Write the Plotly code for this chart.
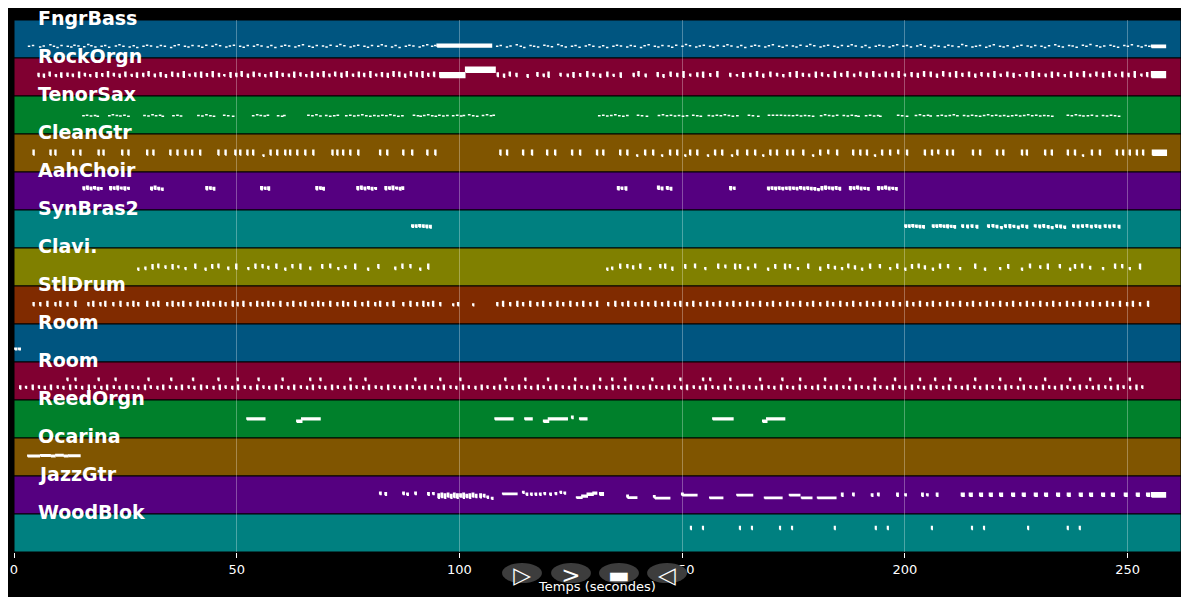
import plotly.graph_objects as go

TRACKS = ["FngrBass", "RockOrgn", "TenorSax", "CleanGtr", "AahChoir", "SynBras2", "Clavi.",
          "StlDrum", "Room", "Room", "ReedOrgn", "Ocarina", "JazzGtr", "WoodBlok"]
X_TICKS = [0, 50, 100, 150, 200, 250]
X_MAX = 262
X_TITLE = "Temps (secondes)"
BUTTON_LABELS = ["▷", ">", "▬", "◁"]

# note length (s) of the short notes of each track
NOTE_LEN = [0.55, 0.22, 0.6, 0.2, 0.35, 0.35, 0.2, 0.2, 0.4, 0.2, 0.3, 0.3, 0.3, 0.15]

# short notes: (onset s, low pitch[, high pitch])
FNGRBASS = [(3.1,40),(4.0,43),(5.6,38),(6.4,41),(7.9,45),(8.7,40),(9.5,36),(10.4,43),(11.8,40),(12.6,38),(13.3,44),(14.2,41),(15.5,39),(16.4,46),(17.1,42),(18.0,38),(19.4,40),(20.2,43),(21.1,37),(22.6,41),(23.4,45),(24.3,40),(25.7,38),(26.6,42),(27.4,36),(28.8,40),(29.6,44),(30.5,41),(31.9,38),(32.7,43),(33.6,40),(35.0,36),(35.8,42),(36.7,45),(38.1,40),(38.9,38),(39.8,43),(41.2,41),(42.0,37),(42.9,44),(44.3,40),(45.1,46),(46.0,42),(47.4,38),(48.2,41),(49.1,44),(50.5,40),(51.3,37),(52.2,43),(53.6,40),(54.4,45),(55.3,41),(56.7,38),(57.5,43),(58.4,36),(59.8,40),(60.6,44),(61.5,41),(62.9,38),(63.7,42),(64.6,45),(66.0,40),(66.8,37),(67.7,43),(69.1,41),(69.9,38),(70.8,44),(72.2,40),(73.0,46),(73.9,42),(75.3,38),(76.1,41),(77.0,44),(78.4,40),(79.2,37),(80.1,43),(81.5,40),(82.3,45),(83.2,41),(84.6,38),(85.4,43),(86.3,36),(87.7,40),(88.5,44),(89.4,41),(90.8,38),(91.6,42),(92.5,45),(93.6,40),(94.3,43),
            (108.2,40),(109.0,43),(110.4,38),(111.2,41),(112.6,45),(113.5,40),(114.3,36),(115.7,43),(116.5,40),(117.4,38),(118.8,44),(119.6,41),(120.5,39),(121.9,46),(122.7,42),(123.6,38),(125.0,40),(125.8,43),(126.7,37),(128.1,41),(128.9,45),(129.8,40),(131.2,38),(132.0,42),(132.9,36),(134.3,40),(135.1,44),(136.0,41),(137.4,38),(138.2,43),(139.1,40),(140.5,36),(141.3,42),(142.2,45),(143.6,40),(144.4,38),(145.3,43),(146.7,41),(147.5,37),(148.4,44),(149.8,40),(150.6,46),(151.5,42),(152.9,38),(153.7,41),(154.6,44),(156.0,40),(156.8,37),(157.7,43),(159.1,40),(159.9,45),(160.8,41),(162.2,38),(163.0,43),(163.9,36),(165.3,40),(166.1,44),(167.0,41),(168.4,38),(169.2,42),(170.1,45),(171.5,40),(172.3,37),(173.2,43),(174.6,41),(175.4,38),(176.3,44),(177.7,40),(178.5,46),(179.4,42),(180.8,38),(181.6,41),(182.5,44),(183.9,40),(184.7,37),(185.6,43),(187.0,40),(187.8,45),(188.7,41),(190.1,38),(190.9,43),(191.8,36),(193.2,40),(194.0,44),(194.9,41),(196.3,38),(197.1,42),(198.0,45),(199.4,40),(200.2,43),(201.1,38),(202.5,41),(203.3,45),(204.2,40),(205.6,36),(206.4,43),(207.3,40),(208.7,38),(209.5,44),(210.4,41),(211.8,39),(212.6,46),(213.5,42),(214.9,38),(215.7,40),(216.6,43),(218.0,37),(218.8,41),(219.7,45),(221.1,40),(221.9,38),(222.8,42),(224.2,36),(225.0,40),(225.9,44),(227.3,41),(228.1,38),(229.0,43),(230.4,40),(231.2,36),(232.1,42),(233.5,45),(234.3,40),(235.2,38),(236.6,43),(237.4,41),(238.3,37),(239.7,44),(240.5,40),(241.4,46),(242.8,42),(243.6,38),(244.5,41),(245.9,44),(246.7,40),(247.6,37),(249.0,43),(249.8,40),(250.7,45),(252.1,41),(252.9,38),(253.8,43),(254.6,40)]
FNGRBASS_HELD = [(95.0,107.2,38,45),(255.4,258.5,36,42)]

ROCKORGN = [(5.4,66,74),(6.6,64,72),(7.9,68,78),(9.3,66,70),(10.5,64,76),(11.9,67,75),(13.1,66,72),(14.5,63,78),(15.8,68,74),(17.0,66,70),(18.4,64,77),(19.7,67,73),(21.0,65,80),(22.3,68,74),(23.6,64,72),(24.9,66,78),(26.3,67,71),(27.5,64,76),(28.9,66,74),(30.1,68,80),(31.5,65,72),(32.8,66,77),(34.0,64,70),(35.4,67,78),(36.7,66,74),(38.0,64,80),(39.3,68,72),(40.6,66,76),(41.9,64,78),(43.2,67,73),(44.5,65,80),(45.9,66,74),(47.1,68,70),(48.5,64,77),(49.8,66,74),(51.0,67,80),(52.4,64,72),(53.7,66,78),(55.0,68,74),(56.3,65,70),(57.6,66,77),(58.9,64,80),(60.2,67,74),(61.6,66,72),(62.8,64,78),(64.2,68,76),(65.5,66,70),(66.8,64,79),(68.1,67,74),(69.4,65,80),(70.7,66,72),(72.0,68,78),(73.4,64,75),(74.6,66,80),(76.0,67,72),(77.3,65,78),(78.5,66,74),(79.9,64,80),(81.2,68,72),(82.5,66,77),(83.8,64,74),(85.1,67,80),(86.4,66,78),(87.7,64,72),(89.0,68,80),(90.3,66,76),(91.6,64,80),(92.9,67,74),(94.2,66,78),
            (108.5,66,76),(109.9,64,72),(111.2,68,78),(112.7,66,74),(115.2,64,70),(117.4,67,77),(118.8,66,72),(119.9,64,78),(122.6,68,74),(124.2,66,72),(125.5,64,77),(127.0,67,73),(128.6,65,80),(130.0,68,74),(131.5,64,72),(133.1,66,78),(134.5,67,71),(136.1,64,76),(139.0,66,74),(140.1,68,80),(141.7,65,72),(144.4,66,77),(145.7,64,70),(147.3,67,78),(148.8,66,74),(150.2,64,80),(151.7,68,72),(153.3,66,76),(154.6,64,78),(156.2,67,73),(157.8,65,80),(160.7,66,74),(162.2,68,70),(163.6,64,77),(165.2,66,74),(166.7,67,80),(168.1,64,72),(169.7,66,78),(171.2,68,74),(172.6,65,70),(174.1,66,77),(175.6,64,80),(177.0,67,74),(178.4,66,72),(179.9,64,78),(181.3,68,76),(182.7,66,70),(184.2,64,79),(185.6,67,74),(187.0,65,80),(188.5,66,72),(189.9,68,78),(191.3,64,75),(192.8,66,80),(194.2,67,72),(195.6,65,78),(197.1,66,74),(198.5,64,80),(199.9,68,72),(201.4,66,77),(202.8,64,74),(204.2,67,80),(205.7,66,78),(207.1,64,72),(208.5,68,80),(210.0,66,76),(211.4,64,80),(212.8,67,74),(214.3,66,78),(215.7,64,72),(217.1,68,77),(218.6,66,74),(220.0,64,80),(221.4,67,72),(222.9,66,78),(224.3,64,74),(225.7,68,70),(227.2,66,77),(228.6,64,80),(230.0,67,74),(231.5,66,72),(232.9,64,78),(234.3,68,76),(235.8,66,70),(237.2,64,79),(238.6,67,74),(240.1,65,80),(241.5,66,72),(242.9,68,78),(244.4,64,75),(245.8,66,80),(247.2,67,72),(248.7,65,78),(250.1,66,74),(251.5,64,80),(253.0,68,72),(254.3,66,77)]
ROCKORGN_HELD = [(95.6,101.2,63,77),(101.4,108.0,80,95),(255.4,258.5,63,80)]

TENORSAX = [(15.3,62),(16.1,64),(17.0,61),(17.9,63),(18.5,60),(21.1,62),(21.9,65),(22.8,63),(23.6,61),(24.5,64),(25.4,60),(29.0,63),(29.9,61),(30.8,65),(31.6,62),(32.5,64),(33.1,60),(35.5,62),(36.4,64),(37.2,61),(41.1,63),(42.0,61),(42.9,65),(43.8,62),(44.6,60),(46.9,64),(47.8,62),(48.9,60),(53.4,62),(54.3,65),(55.1,63),(56.0,61),(56.7,64),(59.0,62),(59.9,60),(60.4,63),(65.8,64),(66.7,62),(67.6,65),(68.5,61),(69.8,63),(70.7,60),(71.6,62),(72.4,64),(74.3,62),(75.2,64),(76.1,61),(77.0,63),(77.9,65),(78.8,62),(79.7,60),(80.6,63),(81.5,61),(82.4,64),(83.3,62),(84.2,65),(85.1,63),(86.0,60),(86.9,62),(89.5,64),(90.4,62),(91.0,60),(91.8,63),(92.7,65),(93.6,62),(94.4,60),(95.2,64),(96.1,61),(97.0,63),(98.3,62),(99.2,64),(100.1,61),(100.7,63),(101.9,65),(102.8,62),(103.7,60),(105.0,63),(105.9,65),(106.8,62),(107.4,64),
            (131.1,62),(132.0,64),(132.9,61),(133.8,63),(134.7,65),(135.6,62),(136.5,60),(137.4,63),(139.8,64),(140.7,62),(141.8,60),(144.5,63),(145.4,65),(146.3,62),(147.2,64),(148.1,61),(149.0,63),(149.9,60),(150.8,62),(152.2,64),(153.1,62),(153.9,60),(155.7,63),(156.6,61),(157.5,64),(158.4,62),(159.3,65),(160.2,63),(161.1,60),(162.1,62),(164.7,64),(165.6,62),(166.8,60),(169.2,64),(170.1,64),(171.0,64),(171.9,64),(172.8,63),(173.7,63),(174.6,62),(175.5,64),(176.4,61),(177.3,63),(178.2,62),(179.1,60),(180.9,62),(181.8,65),(182.7,63),(183.6,61),(184.5,64),(186.0,63),(186.9,61),(187.8,64),(188.7,62),(189.3,60),(191.0,62),(191.9,64),(192.8,61),(193.7,63),(194.2,60),(198.2,64),(199.1,62),(200.2,60),(202.2,63),(203.1,65),(204.0,62),(204.9,64),(205.5,61),(207.1,62),(208.0,64),(208.9,61),(209.8,63),(210.7,65),(211.5,62),(213.0,63),(213.9,61),(214.8,64),(215.7,62),(216.6,60),(217.5,63),(218.4,65),(219.3,62),(220.2,64),(221.1,61),(222.0,63),(222.9,60),(223.8,62),(224.7,64),(225.6,61),(226.5,63),(227.4,65),(228.3,62),(229.2,64),(230.1,61),(231.0,63),(231.9,62),(232.8,60),(236.3,64),(237.2,62),(238.1,65),(239.0,63),(239.8,61),(240.8,62),(241.7,64),(242.8,61),(244.2,63),(245.1,61),(246.0,64),(246.9,62),(247.8,60)]

CLEANGTR = [(4.3,58,72),(8.1,58,72),(9.2,58,72),(13.2,58,72),(14.8,58,72),(18.9,58,72),(20.0,58,72),(24.2,58,72),(25.6,58,72),(29.8,58,72),(31.2,58,72),(35.0,58,72),(36.6,58,72),(38.4,58,72),(39.9,58,72),(41.7,58,72),(45.8,58,72),(47.4,58,72),(49.6,58,72),(50.7,58,72),(52.3,58,72),(53.6,58,72),(55.9,54,56),(57.5,58,72),(59.0,58,72),(60.8,58,72),(61.9,58,72),(63.5,58,72),(65.3,58,72),(67.1,58,72),(71.4,58,72),(72.5,58,72),(73.8,58,72),(75.4,58,72),(77.2,58,72),(82.1,58,72),(83.7,58,72),(87.3,58,72),(89.3,58,72),(92.7,58,72),(94.5,58,72),
            (109.1,58,72),(110.6,58,72),(114.2,58,72),(116.2,58,72),(119.6,58,72),(121.4,58,72),(125.2,58,72),(127.0,58,72),(130.8,58,72),(132.2,58,72),(136.0,58,72),(137.6,58,72),(139.8,54,56),(141.6,58,72),(143.4,58,72),(145.4,54,56),(147.2,58,72),(148.8,58,72),(150.6,54,56),(151.7,58,72),(153.3,58,72),(155.7,54,56),(157.3,58,72),(158.9,58,72),(161.1,54,56),(162.3,58,72),(164.5,58,72),(166.3,58,72),(168.1,54,56),(169.7,58,72),(171.2,58,72),(173.5,58,72),(174.8,58,72),(177.1,58,72),(179.3,54,56),(180.9,58,72),(182.7,62,72),(184.7,58,72),(188.3,58,72),(189.9,58,72),(191.4,58,72),(193.2,54,56),(194.8,58,72),(196.6,58,72),(198.4,62,72),(200.4,58,72),(204.4,58,72),(206.0,58,72),(207.4,62,72),(209.4,58,72),(210.7,58,72),(215.2,58,72),(216.8,58,72),(220.6,58,72),(222.0,58,72),(226.2,58,72),(227.3,58,72),(231.4,58,72),(232.9,58,72),(236.5,58,72),(238.1,58,72),(239.9,54,56),(241.9,58,72),(243.7,58,72),(247.5,58,72),(248.9,58,72),(250.4,58,72),(252.0,58,72),(253.4,58,72)]
CLEANGTR_HELD = [(255.6,258.7,57,72)]

AAHCHOIR = [(15.5,69,76),(16.3,70,78),(17.1,69,75),(17.9,71,77),(18.7,68,74),(19.4,70,73),(21.5,69,77),(22.3,70,76),(23.1,69,78),(23.9,71,75),(24.7,68,76),(25.5,70,74),(30.7,68,75),(31.5,70,78),(32.3,69,74),(33.1,67,72),(43.1,69,77),(43.9,70,76),(44.7,68,74),(55.4,69,77),(56.2,70,75),(57.0,68,76),(67.8,69,77),(68.6,70,76),(69.3,68,74),(77.0,69,77),(77.8,70,78),(78.6,69,75),(79.4,71,77),(80.2,68,74),(81.0,70,73),(83.3,69,77),(84.1,70,76),(84.9,69,78),(85.7,71,75),(86.5,68,74),(87.1,70,76),
            (135.5,69,77),(136.3,70,75),(137.2,68,76),(144.5,70,78),(145.3,69,75),(146.5,70,77),(147.3,68,74),(160.7,69,77),(161.5,70,75),(169.2,69,75),(170.0,70,76),(170.8,69,75),(171.6,70,76),(172.4,69,74),(173.2,70,75),(174.0,69,76),(174.8,70,75),(175.6,69,74),(176.4,71,77),(177.2,69,75),(178.0,70,76),(178.8,69,74),(179.6,68,73),(180.4,66,70),(181.2,69,77),(182.0,70,78),(182.8,71,76),(183.6,69,75),(184.4,70,77),(185.2,68,74),(187.6,69,77),(188.4,70,76),(189.2,71,78),(190.0,69,75),(190.8,70,74),(191.6,68,73),(193.9,69,77),(194.7,70,76),(195.5,71,78),(196.3,69,75),(197.1,70,74),(197.9,68,73)]

SYNBRAS2 = [(89.3,70,76),(90.1,70,76),(90.9,71,77),(91.7,70,76),(92.5,69,75),(93.3,68,74),(200.0,70,76),(200.8,70,76),(201.6,71,77),(202.4,70,75),(203.2,69,74),(204.0,68,73),(206.2,70,76),(207.0,70,76),(207.8,71,77),(208.6,70,75),(209.4,69,76),(210.2,70,74),(211.0,68,73),(212.8,70,76),(213.9,69,75),(214.9,70,76),(216.0,68,74),(218.6,70,76),(219.6,71,77),(220.5,69,74),(221.5,66,70),(222.4,70,76),(223.4,69,77),(224.3,70,74),(225.3,66,72),(226.2,70,76),(227.2,68,74),(229.1,71,76),(230.1,69,75),(231.0,70,77),(232.0,68,73),(232.9,66,70),(233.9,70,76),(234.8,69,75),(235.7,67,72),(237.7,70,76),(238.7,69,75),(239.7,70,76),(240.7,71,77),(241.7,69,74),(242.7,70,76),(243.6,68,74),(244.8,70,76),(245.8,69,75),(246.8,70,76),(247.9,68,74)]

CLAVI = [(27.8,54,58),(29.4,56,62),(31.0,58,70),(32.3,62,72),(33.9,60,66),(35.5,58,70),(36.8,62,66),(38.4,56,60),(40.6,60,72),(42.9,54,58),(44.4,60,70),(45.8,62,72),(48.0,56,62),(49.8,58,72),(52.5,56,60),(54.1,60,72),(55.7,62,70),(57.0,58,64),(58.8,60,72),(60.8,54,58),(62.4,62,70),(64.2,58,72),(66.4,56,62),(69.1,60,70),(70.9,62,72),(72.7,56,60),(74.3,60,66),(76.5,58,72),(79.4,54,58),(81.7,60,70),(85.5,56,62),(87.1,60,72),(88.9,62,70),(91.1,54,58),(92.9,58,72),
         (133.1,54,58),(134.2,56,62),(136.0,60,72),(137.6,62,70),(138.9,58,66),(140.5,60,72),(142.7,56,60),(145.0,62,70),(146.1,60,72),(147.7,54,62),(150.6,60,70),(152.8,62,72),(155.1,56,60),(158.0,60,72),(159.6,62,68),(161.8,58,72),(162.9,60,70),(164.7,56,62),(166.3,62,72),(169.2,54,58),(170.8,60,70),(173.0,58,72),(174.1,62,70),(175.9,56,60),(178.2,60,72),(180.9,54,62),(182.7,60,70),(184.2,58,64),(185.8,56,60),(187.2,62,72),(188.7,58,66),(190.3,54,58),(192.1,60,72),(194.3,62,70),(196.6,56,60),(198.2,60,72),(200.0,54,58),(201.5,60,70),(203.0,62,72),(204.4,58,66),(206.2,54,58),(207.8,60,72),(209.6,62,70),(212.3,56,60),(215.7,60,72),(217.9,54,58),(221.3,56,60),(223.1,60,70),(226.2,54,58),(228.0,62,72),(230.3,60,66),(232.0,58,72),(234.7,62,70),(237.0,54,58),(238.1,60,70),(239.7,62,72),(241.5,58,64),(244.4,56,60),(247.1,60,72),(248.7,62,70),(250.4,56,60),(252.7,58,72)]

STLDRUM = [(4.3,62,70),(5.8,62,70),(7.4,60,74),(9.2,62,70),(10.3,60,74),(11.9,62,70),(13.7,60,74),(16.6,62,70),(17.7,60,74),(19.3,62,70),(20.4,60,74),(22.2,62,70),(23.8,60,74),(25.4,62,70),(26.7,60,74),(27.8,62,70),(29.8,60,74),(31.2,62,70),(32.3,60,74),(34.3,62,70),(35.5,60,74),(36.8,62,70),(37.9,60,74),(39.5,62,70),(41.1,60,74),(42.4,62,70),(43.5,60,74),(44.7,62,70),(46.2,60,74),(47.4,62,70),(49.0,60,74),(50.1,62,70),(51.4,60,74),(53.0,62,70),(54.5,60,74),(55.7,62,70),(57.0,60,74),(58.1,62,70),(59.7,60,74),(61.3,62,70),(62.6,60,74),(64.2,62,70),(65.3,60,74),(66.9,62,70),(68.2,60,74),(69.3,62,70),(70.9,60,74),(72.5,62,70),(73.8,60,74),(74.9,62,70),(76.5,60,74),(78.1,62,70),(79.4,60,74),(81.0,62,70),(82.1,60,74),(83.7,62,70),(85.1,60,74),(87.3,62,70),(88.9,60,74),(90.4,62,70),(91.8,60,74),(92.9,62,70),(94.0,60,74),(95.6,62,70),(98.5,62,66),(99.6,62,70),(103.0,62,66),
           (108.4,62,70),(109.7,60,74),(111.3,62,70),(112.9,60,74),(114.2,62,70),(115.8,60,74),(117.4,62,70),(118.7,60,74),(120.3,62,70),(121.9,60,74),(123.2,62,70),(124.8,60,74),(126.3,62,70),(127.7,60,74),(129.3,62,70),(130.8,60,74),(133.3,62,70),(134.9,60,74),(136.5,62,70),(137.8,60,74),(139.4,62,70),(140.9,60,74),(142.3,62,70),(143.9,60,74),(145.4,62,70),(146.8,60,74),(148.3,62,70),(149.5,60,74),(151.0,62,70),(152.4,60,74),(154.0,62,70),(155.5,60,74),(156.9,62,70),(158.4,60,74),(160.0,62,70),(161.4,60,74),(162.9,62,70),(164.5,60,74),(165.8,62,70),(167.4,60,74),(169.0,62,70),(170.3,60,74),(171.9,62,70),(173.5,60,74),(174.8,62,70),(176.4,60,74),(178.0,62,70),(179.3,60,74),(180.9,62,70),(182.5,60,74),(183.8,62,70),(185.4,60,74),(186.9,62,70),(188.3,60,74),(189.9,62,70),(191.4,60,74),(192.8,62,70),(194.3,60,74),(195.9,62,70),(197.3,60,74),(198.8,62,70),(200.4,60,74),(201.8,62,70),(203.3,60,74),(204.9,62,70),(206.2,60,74),(207.8,62,70),(209.4,60,74),(210.7,62,70),(212.3,60,74),(213.9,62,70),(215.2,60,74),(216.8,62,70),(218.3,60,74),(219.7,62,70),(221.3,60,74),(222.8,62,70),(224.2,60,74),(225.8,62,70),(227.3,60,74),(228.7,62,70),(230.3,60,74),(231.8,62,70),(233.2,60,74),(234.7,62,70),(236.3,60,74),(237.7,62,70),(239.2,60,74),(240.8,62,70),(242.1,60,74),(243.7,62,70),(245.3,60,74),(246.6,62,70),(248.2,60,74),(249.8,62,70),(251.1,60,74),(252.7,62,70),(254.5,60,74)]

ROOM_A = [(0.2,42,45),(1.0,42,45)]

ROOM_B = [(1.3,38,46),(2.6,40,44),(4.1,36,48),(5.5,40,46),(6.8,38,44),(8.2,36,48),(9.7,40,46),(11.0,38,44),(12.5,36,48),(13.8,40,46),(15.2,38,44),(16.7,36,48),(18.0,40,46),(19.5,38,44),(20.8,36,48),(22.3,40,46),(23.6,38,44),(25.1,36,48),(26.5,40,46),(27.8,38,44),(29.3,36,48),(30.6,40,46),(32.1,38,44),(33.4,36,48),(34.9,40,46),(36.3,38,44),(37.6,36,48),(39.1,40,46),(40.4,38,44),(41.9,36,48),(43.2,40,46),(44.7,38,44),(46.1,36,48),(47.4,40,46),(48.9,38,44),(50.2,36,48),(51.7,40,46),(53.0,38,44),(54.5,36,48),(55.9,40,46),(57.2,38,44),(58.7,36,48),(60.0,40,46),(61.5,38,44),(62.8,36,48),(64.3,40,46),(65.7,38,44),(67.0,36,48),(68.5,40,46),(69.8,38,44),(71.3,36,48),(72.6,40,46),(74.1,38,44),(75.5,36,48),(76.8,40,46),(78.3,38,44),(79.6,36,48),(81.1,40,46),(82.4,38,44),(83.9,36,48),(85.3,40,46),(86.6,38,44),(88.1,36,48),(89.4,40,46),(90.9,38,44),(92.2,36,48),(93.7,40,46),(95.1,38,44),(96.4,36,48),(97.9,40,46),(99.2,38,44),(100.7,36,48),(102.0,40,46),(103.5,38,44),(104.9,36,48),(106.2,40,46),(107.7,38,44),(109.0,36,48),(110.5,40,46),(111.8,38,44),(113.3,36,48),(114.7,40,46),(116.0,38,44),(117.5,36,48),(118.8,40,46),(120.3,38,44),(121.6,36,48),(123.1,40,46),(124.5,38,44),(125.8,36,48),(127.3,40,46),(128.6,38,44),(130.1,36,48),(131.4,40,46),(132.9,38,44),(134.3,36,48),(135.6,40,46),(137.1,38,44),(138.4,36,48),(139.9,40,46),(141.2,38,44),(142.7,36,48),(144.1,40,46),(145.4,38,44),(146.9,36,48),(148.2,40,46),(149.7,38,44),(151.0,36,48),(152.5,40,46),(153.9,38,44),(155.2,36,48),(156.7,40,46),(158.0,38,44),(159.5,36,48),(160.8,40,46),(162.3,38,44),(163.7,36,48),(165.0,40,46),(166.5,38,44),(167.8,36,48),(169.3,40,46),(170.6,38,44),(172.1,36,48),(173.5,40,46),(174.8,38,44),(176.3,36,48),(177.6,40,46),(179.1,38,44),(180.4,36,48),(181.9,40,46),(183.3,38,44),(184.6,36,48),(186.1,40,46),(187.4,38,44),(188.9,36,48),(190.2,40,46),(191.7,38,44),(193.1,36,48),(194.4,40,46),(195.9,38,44),(197.2,36,48),(198.7,40,46),(200.0,38,44),(201.5,36,48),(202.9,40,46),(204.2,38,44),(205.7,36,48),(207.0,40,46),(208.5,38,44),(209.8,36,48),(211.3,40,46),(212.7,38,44),(214.0,36,48),(215.5,40,46),(216.8,38,44),(218.3,36,48),(219.6,40,46),(221.1,38,44),(222.5,36,48),(223.8,40,46),(225.3,38,44),(226.6,36,48),(228.1,40,46),(229.4,38,44),(230.9,36,48),(232.3,40,46),(233.6,38,44),(235.1,36,48),(236.4,40,46),(237.9,38,44),(239.2,36,48),(240.7,40,46),(242.1,38,44),(243.4,36,48),(244.9,40,46),(246.2,38,44),(247.7,36,48),(249.0,40,46),(250.5,38,44),(251.9,36,48),(253.2,40,46),
          (11.9,66,72),(13.7,66,72),(18.9,66,72),(22.7,66,72),(30.1,66,72),(35.2,66,72),(40.1,66,72),(45.8,66,72),(50.1,66,72),(54.8,66,72),(60.2,66,72),(66.4,66,72),(68.7,66,72),(75.4,66,72),(78.8,66,72),(90.0,66,72),(95.6,66,72),(100.1,66,72),(110.2,66,72),(114.7,66,72),(119.8,66,72),(125.9,66,72),(131.5,66,72),(134.2,66,72),(137.1,66,72),(143.2,66,72),(149.5,66,72),(154.6,66,72),(156.2,66,72),(160.7,66,72),(167.4,66,72),(172.4,66,72),(176.4,66,72),(182.0,66,72),(187.6,66,72),(193.2,66,72),(197.7,66,72),(203.3,66,72),(206.7,66,72),(210.1,66,72),(215.7,66,72),(221.3,66,72),(225.8,66,72),(231.4,66,72),(237.0,66,72),(241.5,66,72),(246.0,66,72),(250.4,66,72)]

REEDORGN_HELD = [(52.3,56.3,62,66),(63.5,64.6,54,58),(64.6,68.7,62,66),(108.0,112.0,62,66),(114.7,116.3,62,66),(118.9,120.0,54,58),(120.0,124.2,62,66),(125.2,125.5,66,72),(127.0,128.6,62,66),(156.9,161.4,62,66),(168.1,169.0,54,58),(169.0,173.0,62,66)]

OCARINA_HELD = [(3.1,5.7,65,68),(6.0,8.1,67,70),(8.3,9.2,65,68),(9.4,11.0,68,71),(11.2,12.1,65,68),(12.3,14.8,66,69)]

JAZZGTR = [(82.1,66,72),(83.3,64,70),(87.3,66,72),(88.2,64,68),(90.0,66,72),(92.9,64,70),(94.0,66,70),(95.2,54,66),(95.9,56,68),(96.6,54,66),(97.3,58,68),(98.0,54,64),(98.7,56,68),(99.4,54,66),(100.1,58,66),(100.8,54,68),(101.5,56,64),(102.2,54,66),(102.9,58,68),(103.6,56,64),(104.6,55,66),(105.4,58,64),(106.2,54,58),(107.2,50,54),(114.2,70,74),(115.0,64,68),(116.0,64,68),(117.0,64,68),(118.0,64,68),(119.0,66,70),(120.3,64,68),(121.5,66,70),(122.6,70,74),(123.5,68,72),(137.6,56,62),(143.6,56,60),(149.9,64,68),(185.8,60,68),(188.3,62,68),(192.5,60,66),(193.9,62,68),(198.2,60,68),(200.0,62,66),(203.8,60,68),(204.9,62,66),(207.1,60,68)]
JAZZGTR_HELD = [(109.7,112.9,66,68),(126.3,127.5,54,56),(127.5,128.7,58,62),(128.7,130.0,64,68),(130.0,130.8,68,72),(131.5,132.3,64,70),(137.8,139.8,54,56),(143.9,147.2,52,54),(150.1,153.3,62,64),(156.2,159.1,53,55),(162.3,165.8,62,64),(168.5,172.4,53,55),(174.1,176.4,62,64),(176.8,179.1,53,55),(180.4,184.5,53,55),(212.7,213.3,60,68),(214.5,215.1,60,68),(216.8,217.4,60,68),(219.0,219.6,60,68),(221.3,221.9,60,68),(224.0,224.6,60,68),(226.4,227.0,60,68),(229.1,229.7,60,68),(231.4,232.0,60,68),(234.1,234.7,60,68),(236.5,237.1,60,68),(239.2,239.8,60,68),(241.5,242.1,60,68),(244.2,244.8,60,68),(246.4,247.0,60,68),(249.3,249.9,60,68),(252.0,252.6,60,68),(254.3,254.9,60,68),(255.4,258.5,58,70)]

WOODBLOK = [(151.9,76,84),(154.6,76,84),(162.9,76,84),(165.6,76,84),(171.9,76,84),(174.6,76,84),(184.2,76,84),(193.4,76,84),(196.1,76,84),(206.0,76,84),(215.0,76,84),(217.7,76,84),(227.6,76,84),(236.5,76,84),(239.2,76,84)]

SHORT = [FNGRBASS, ROCKORGN, TENORSAX, CLEANGTR, AAHCHOIR, SYNBRAS2, CLAVI, STLDRUM,
         ROOM_A, ROOM_B, [], [], JAZZGTR, WOODBLOK]
HELD = [FNGRBASS_HELD, ROCKORGN_HELD, [], CLEANGTR_HELD, [], [], [], [], [], [],
        REEDORGN_HELD, OCARINA_HELD, JAZZGTR_HELD, []]

BAND_COLORS = ["#005580", "#800031", "#00802b", "#805500", "#550080", "#008080", "#808000", "#802b00"]

n = len(TRACKS)
fig = go.Figure()

for i, name in enumerate(TRACKS):
    base = n - 1 - i
    fig.add_shape(type="rect", xref="paper", yref="y", x0=0, x1=1, y0=base, y1=base + 1,
                  fillcolor=BAND_COLORS[i % len(BAND_COLORS)], line=dict(color="black", width=1),
                  layer="below")
    xs, ys = [], []

    def add(t0, t1, lo, hi):
        y0 = base + (lo - 1) / 127
        y1 = base + (hi + 1) / 127
        xs.extend([t0, t1, t1, t0, t0, None])
        ys.extend([y0, y0, y1, y1, y0, None])

    for ev in SHORT[i]:
        lo = ev[1]
        hi = ev[2] if len(ev) > 2 else ev[1]
        add(ev[0], ev[0] + NOTE_LEN[i], lo, hi)
    for s, e, lo, hi in HELD[i]:
        add(s, e, lo, hi)
    if xs:
        fig.add_trace(go.Scatter(x=xs, y=ys, mode="lines", fill="toself", fillcolor="white",
                                 line=dict(color="white", width=1.5), hoverinfo="skip",
                                 showlegend=False, name=name))
    fig.add_annotation(x=0.0188, xref="paper", y=base + 1, yref="y", yshift=2,
                       text="<b>" + name + "</b>", showarrow=False, xanchor="left", yanchor="middle",
                       font=dict(family="DejaVu Sans", size=19, color="white"))

# playback buttons
btn_cx = [0.4353, 0.4773, 0.5184, 0.5596]
for cx, lab in zip(btn_cx, BUTTON_LABELS):
    fig.add_shape(type="circle", xref="paper", yref="paper", x0=cx - 0.0171, x1=cx + 0.0171,
                  y0=-0.0585, y1=-0.0209, fillcolor="#3d3d3d", line=dict(width=0), layer="above",
                  label=dict(text=lab, font=dict(family="DejaVu Sans", size=23, color="white")))

fig.update_layout(
    width=1173, height=589,
    margin=dict(l=6, r=0, t=12, b=45),
    paper_bgcolor="black", plot_bgcolor="black",
    font=dict(family="DejaVu Sans", color="white", size=13),
    showlegend=False,
    xaxis=dict(range=[0, X_MAX], tickvals=X_TICKS, showgrid=True,
               gridcolor="rgba(255,255,255,0.3)", gridwidth=1, zeroline=False, showline=False,
               ticks="outside", ticklen=5, tickcolor="white",
               tickfont=dict(size=13, color="white"),
               title=dict(text=X_TITLE, font=dict(size=13, color="white"), standoff=6)),
    yaxis=dict(range=[0, n], visible=False, fixedrange=True),
)

fig.write_html("out.html")
